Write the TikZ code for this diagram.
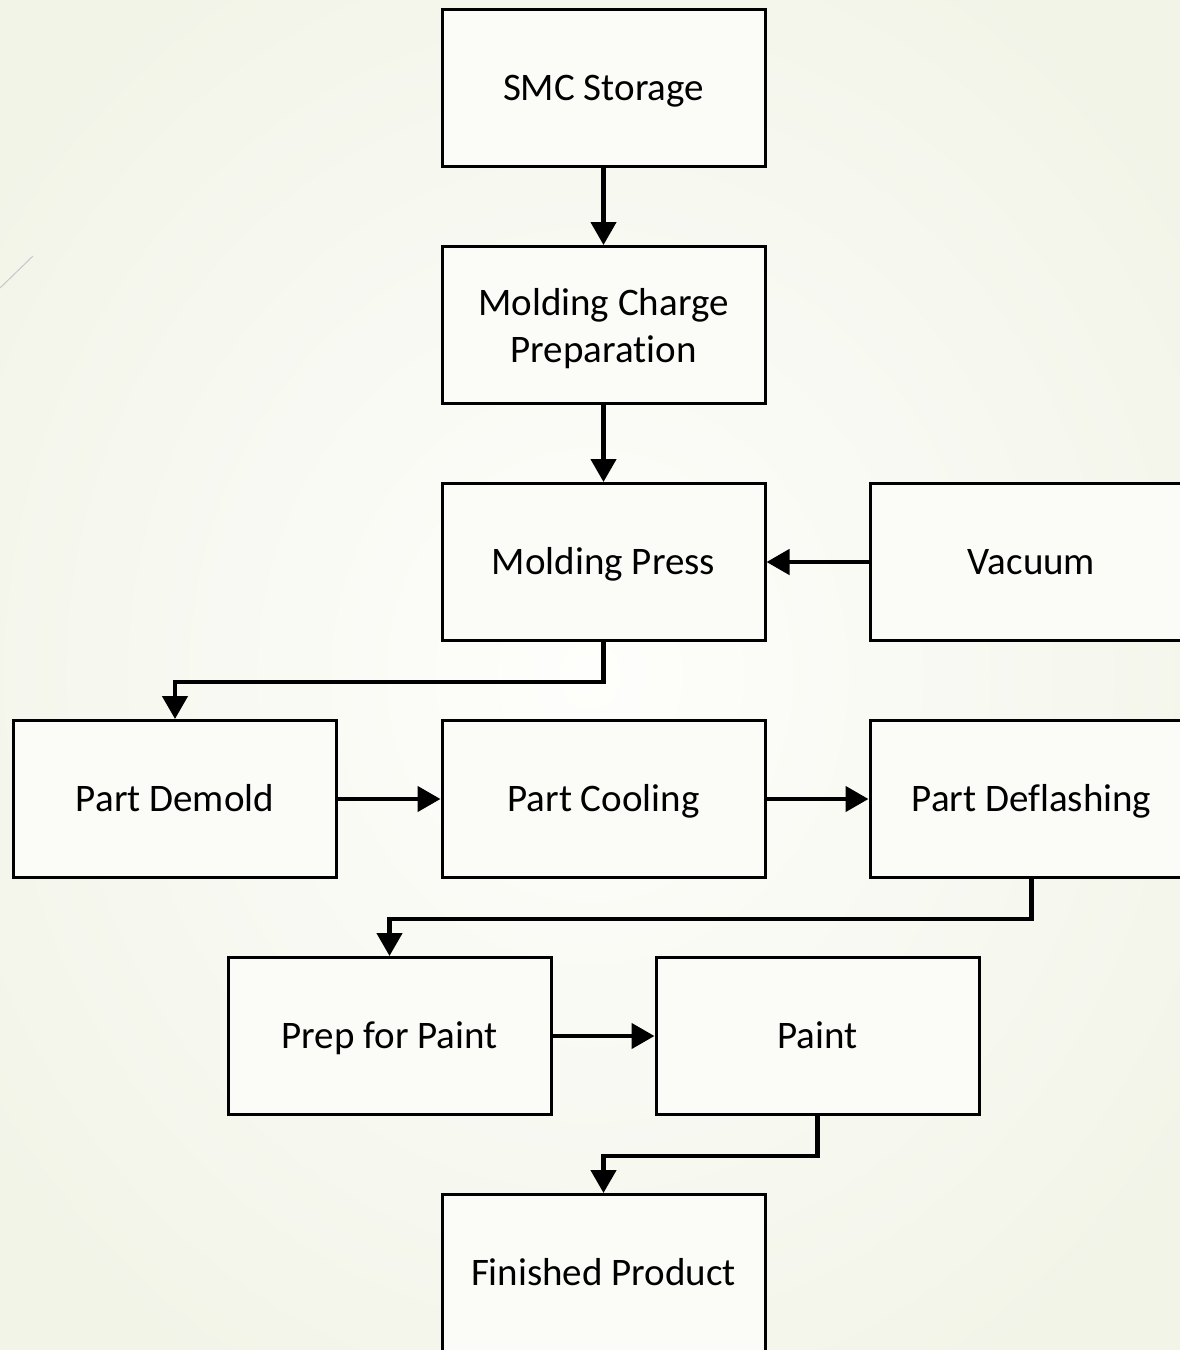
\documentclass[tikz,border=0pt]{standalone}
\usepackage{fontspec}
\setmainfont{Carlito}[Ligatures={NoCommon,NoContextual,NoRare}]
\usetikzlibrary{arrows.meta}
\definecolor{pageouter}{HTML}{F2F4E8}
\definecolor{pageinner}{HTML}{FEFEFC}
\definecolor{boxfill}{HTML}{FBFCF8}
\begin{document}
\begin{tikzpicture}[x=1pt,y=-1pt,
  stage/.style={draw=black, line width=3pt, fill=boxfill,
    minimum width=323pt, minimum height=157pt, inner sep=0pt,
    text height=35pt, text depth=10pt,
    align=center, font=\fontsize{39}{47}\selectfont},
  flow/.style={draw=black, line width=4.5pt,
    -{Triangle[length=23pt,width=25pt]}}]
  % page background
  \useasboundingbox (0,0) rectangle (1179,1350);
  \shade[inner color=pageinner, outer color=pageouter] (-150,-150) rectangle (1329,1500);
  \draw[color=black!22, line width=1pt] (0,288) -- (33,256);

  % process stages
  \node[stage] (smc)    at (603.5,87.5)  {SMC Storage};
  \node[stage, text height=85pt] (charge) at (603.5,325) {Molding Charge\\Preparation};
  \node[stage] (press)  at (603.5,562)   {Molding Press};
  \node[stage] (vac)    at (1031.5,562)  {Vacuum};
  \node[stage] (demold) at (175,799)     {Part Demold};
  \node[stage] (cool)   at (603.5,799)   {Part Cooling};
  \node[stage] (deflash)at (1031.5,799)  {Part Deflashing};
  \node[stage] (prep)   at (389.5,1036)  {Prep for Paint};
  \node[stage] (paint)  at (817.5,1036)  {Paint};
  \node[stage] (done)   at (603.5,1273)  {Finished Product};

  % connectors
  \draw[flow] (smc.south) -- (charge.north);
  \draw[flow] (charge.south) -- (press.north);
  \draw[flow] (vac.west) -- (press.east);
  \draw[flow] (press.south) -- ++(0,40) -| (demold.north);
  \draw[flow] (demold.east) -- (cool.west);
  \draw[flow] (cool.east) -- (deflash.west);
  \draw[flow] (deflash.south) -- ++(0,40) -| (prep.north);
  \draw[flow] (prep.east) -- (paint.west);
  \draw[flow] (paint.south) -- ++(0,40) -| (done.north);
\end{tikzpicture}
\end{document}
